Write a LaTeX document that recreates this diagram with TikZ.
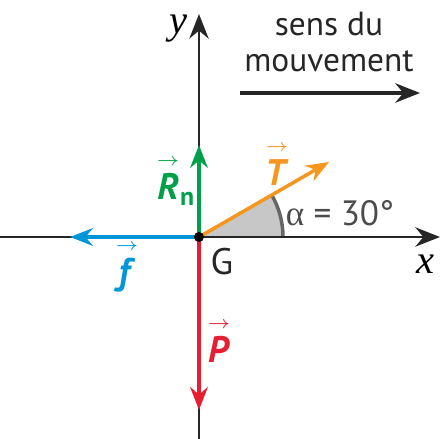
\documentclass[tikz,border=0pt]{standalone}
\usepackage{amsmath}
\usepackage{fontspec}
\setmainfont{PT Sans}
\newfontfamily\timesfont{Liberation Serif}
\usetikzlibrary{arrows.meta}
\usetikzlibrary{positioning,calc}

\definecolor{fgreen}{RGB}{0,160,75}
\definecolor{forange}{RGB}{245,150,30}
\definecolor{fblue}{RGB}{0,150,215}
\definecolor{fred}{RGB}{230,30,50}

\newcommand{\vecfig}[1]{$\overset{\scriptscriptstyle\rightarrow}{\textbf{\textit{#1}}}$}

\begin{document}
\begin{tikzpicture}[x=0.01cm, y=-0.01cm,
  axis/.style={-{Stealth[length=7pt,width=5.5pt]}, line width=0.6pt, black!85},
  force/.style={-{Stealth[length=6.5pt,width=5pt]}, line width=1pt},
  lbl/.style={font=\fontsize{10.5}{12}\selectfont, inner sep=0pt}
]
\useasboundingbox (0,0) rectangle (441,439);

%% Axes
\coordinate (G)  at (199,237);
\coordinate (xl) at (0,237);
\coordinate (xr) at (440,237);
\coordinate (yb) at (199,439);
\coordinate (yt) at (199,14);

%% Angle alpha
\fill[black!22] (G) -- ++(84,0) arc (0:-30:84) -- cycle;
\draw[black!60, line width=1pt] (G) ++(84,0) arc (0:-30:84);

\draw[axis] (xl) -- (xr);
\draw[axis] (yb) -- (yt);
\node[lbl, font=\fontsize{11.5}{12}\selectfont\timesfont\itshape] (xlab) at (425,264) {x};
\node[lbl, font=\fontsize{11.5}{12}\selectfont\timesfont\itshape] (ylab) at (178,29) {y};

%% Forces
\coordinate (Rn) at (199,145);
\coordinate (T)  at ($(G)+(130,-75)$);
\coordinate (f)  at (70,237);
\coordinate (P)  at (199,410);

\draw[force, fgreen]  (G) -- (Rn);
\draw[force, forange] (G) -- (T);
\draw[force, fblue]   (G) -- (f);
\draw[force, fred]    (G) -- (P);
\fill (G) circle (5);

\node[lbl, fgreen]  (Rnlab) at (176,180) {\vecfig{R}$_{\textbf{n}}$};
\node[lbl, forange] (Tlab)  at (277,163) {\vecfig{T}};
\node[lbl, fblue]   (flab)  at (127,266) {\vecfig{f}};
\node[lbl, fred]    (Plab)  at (219,340) {\vecfig{P}};
\node[lbl, black!85] (Glab) at (222,262) {G};
\node[lbl, black!70, font=\fontsize{10}{12}\selectfont] (alab) at (340,213) {{\timesfont α} = 30°};

%% Direction of motion
\node[lbl, black!85, align=center, font=\fontsize{9.5}{10.3}\selectfont] (sens) at (329,42) {sens du\\mouvement};
\coordinate (m1) at (240,93);
\coordinate (m2) at (420,93);
\draw[axis, line width=1.1pt] (m1) -- (m2);
\end{tikzpicture}
\end{document}
